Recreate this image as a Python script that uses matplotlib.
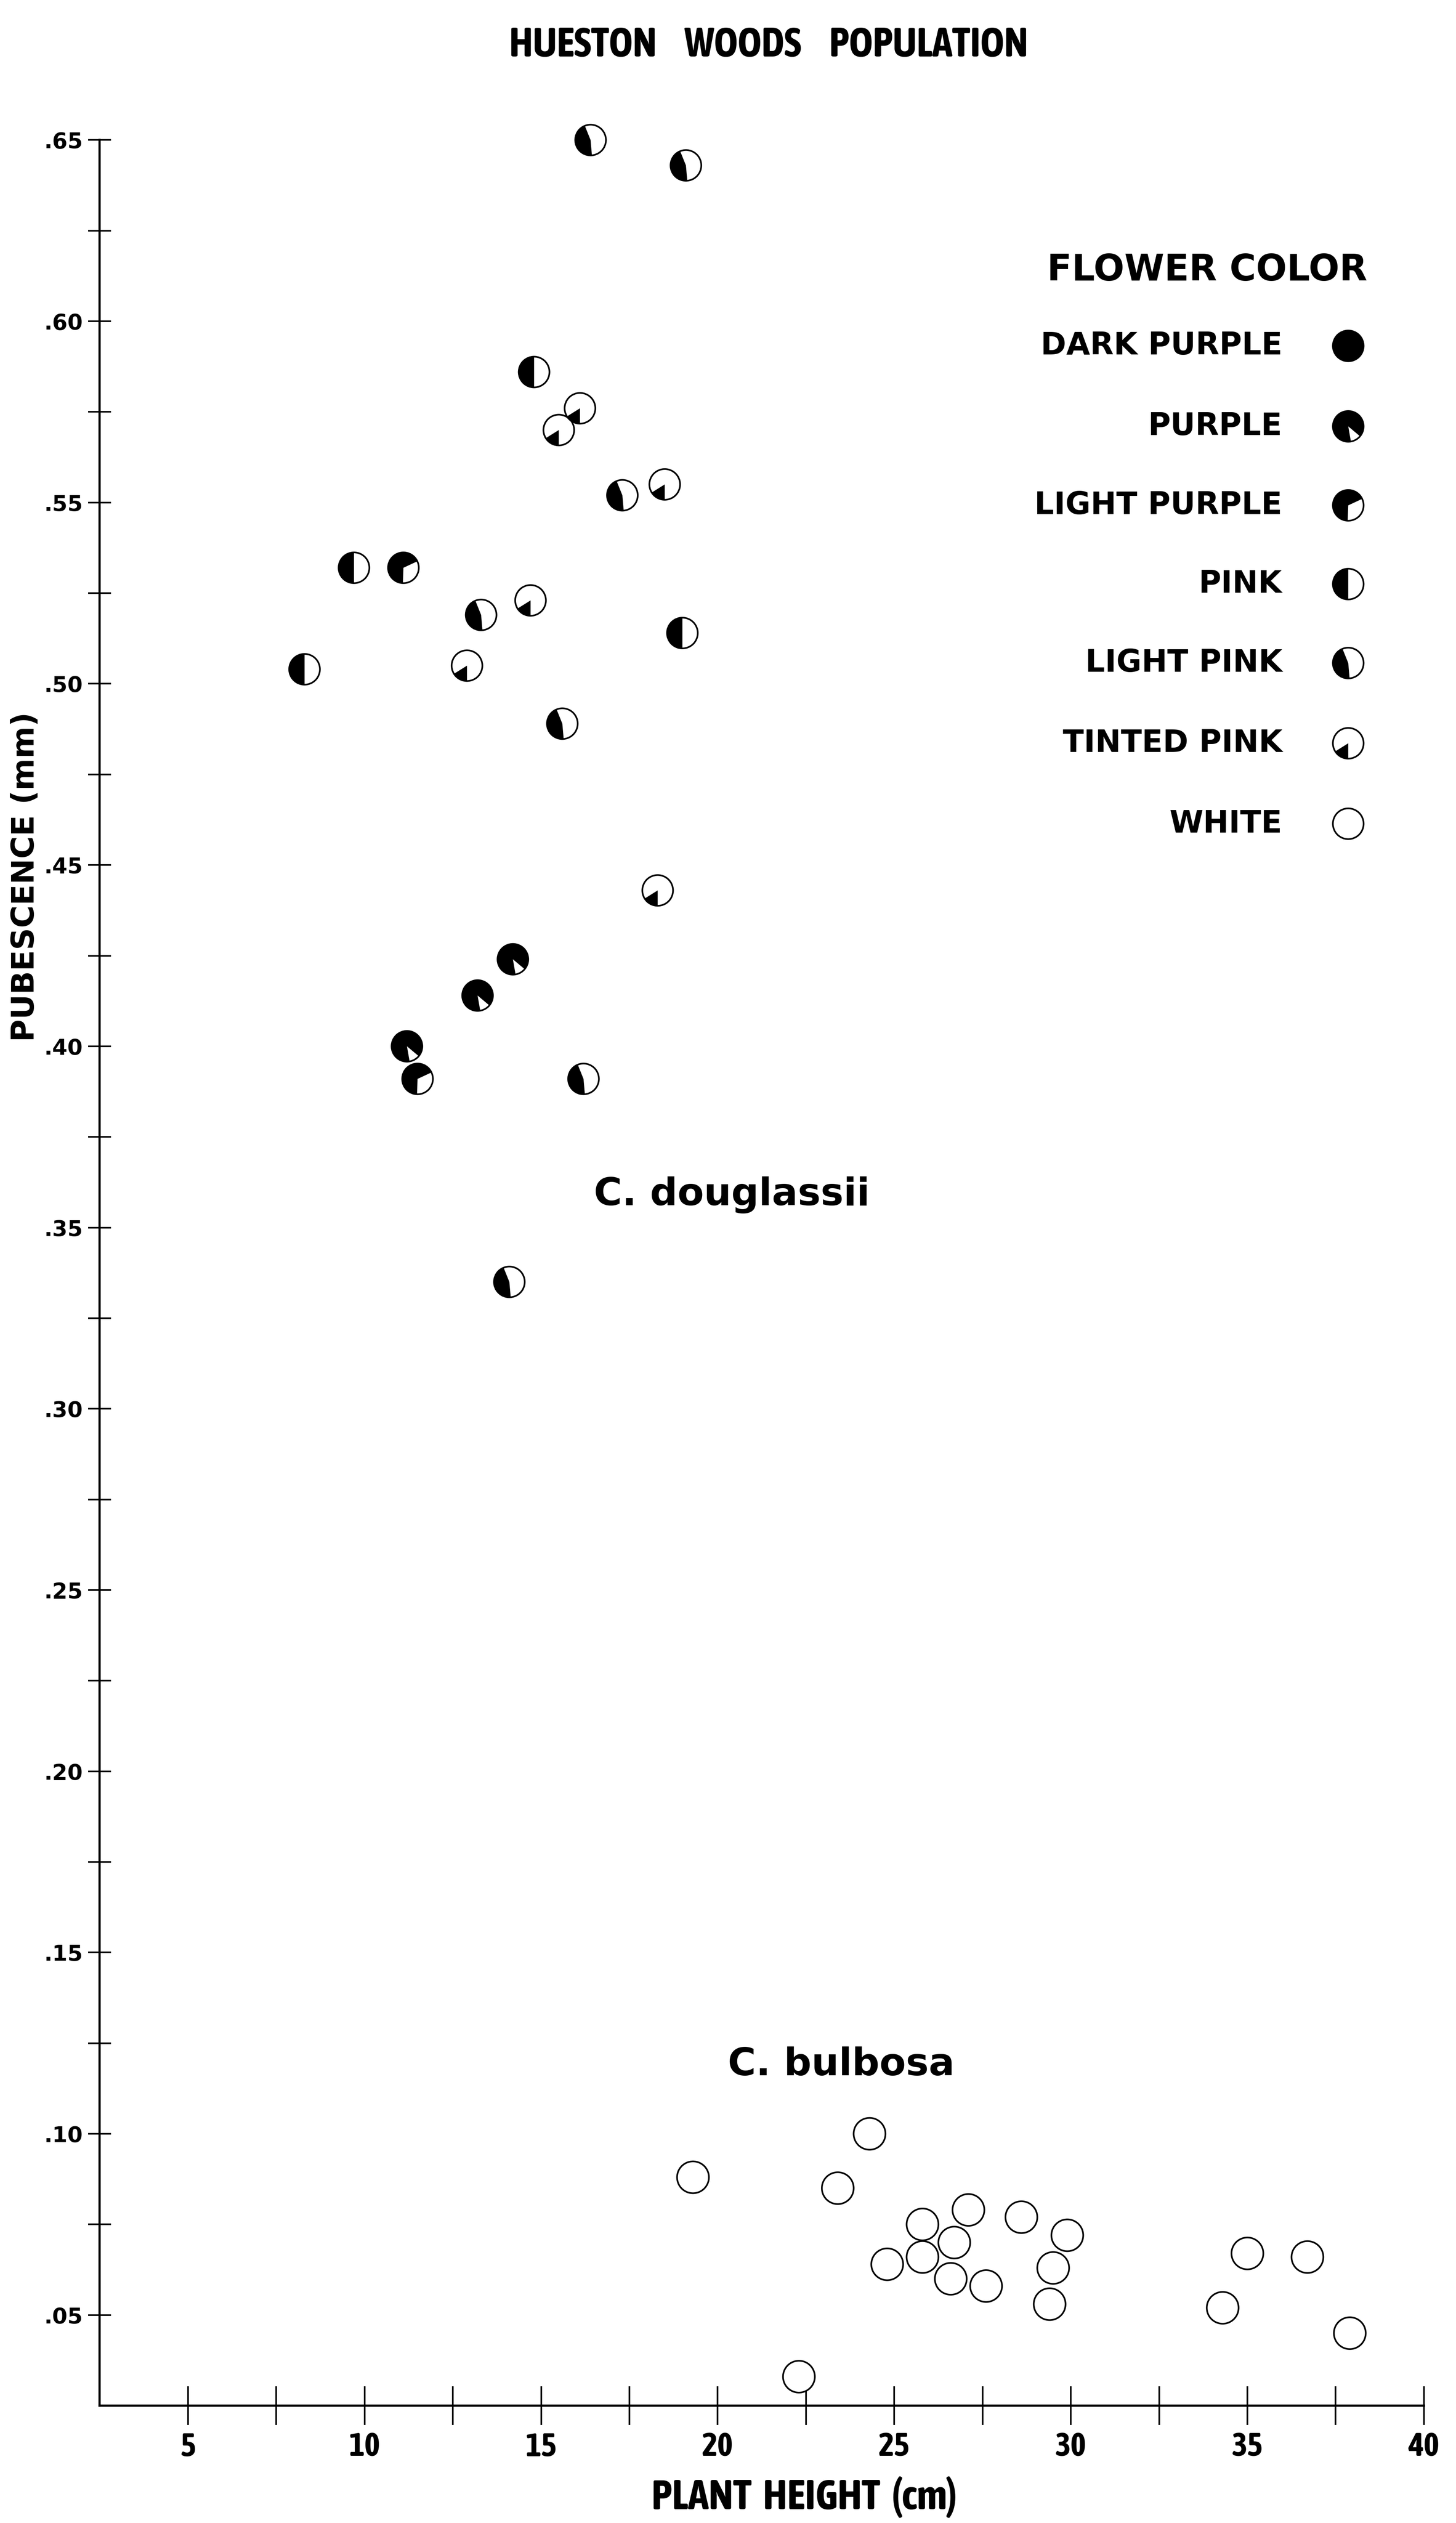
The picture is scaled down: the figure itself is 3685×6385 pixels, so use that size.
import numpy as np
import matplotlib
matplotlib.use("Agg")
import matplotlib.pyplot as plt
from matplotlib import font_manager

# flower color classes (legend order)
colorNames = ["DARK PURPLE", "PURPLE", "LIGHT PURPLE", "PINK",
              "LIGHT PINK", "TINTED PINK", "WHITE"]

# C. douglassii : plant height (cm), pubescence (mm), flower color
douglassiiHeight = [16.4, 19.1, 14.8, 16.1, 15.5, 17.3, 18.5, 9.7, 11.1, 13.3, 14.7,
                    19.0, 8.3, 12.9, 15.6, 18.3, 14.2, 13.2, 11.2, 11.5, 16.2, 14.1]
douglassiiPubescence = [.650, .643, .586, .576, .570, .552, .555, .532, .532, .519, .523,
                        .514, .504, .505, .489, .443, .424, .414, .400, .391, .391, .335]
douglassiiColor = ["LIGHT PINK", "LIGHT PINK", "PINK", "TINTED PINK", "TINTED PINK",
                   "LIGHT PINK", "TINTED PINK", "PINK", "LIGHT PURPLE", "LIGHT PINK",
                   "TINTED PINK", "PINK", "PINK", "TINTED PINK", "LIGHT PINK",
                   "TINTED PINK", "PURPLE", "PURPLE", "PURPLE", "LIGHT PURPLE",
                   "LIGHT PINK", "LIGHT PINK"]

# C. bulbosa : all white flowers
bulbosaHeight = [24.3, 19.3, 23.4, 27.1, 25.8, 28.6, 26.7, 29.9, 24.8, 25.8,
                 26.6, 27.6, 29.5, 29.4, 35.0, 36.7, 34.3, 37.9, 22.3]
bulbosaPubescence = [.100, .088, .085, .079, .075, .077, .070, .072, .064, .066,
                     .060, .058, .063, .053, .067, .066, .052, .045, .033]

xMajor = [5, 10, 15, 20, 25, 30, 35, 40]
xMinor = [7.5, 12.5, 17.5, 22.5, 27.5, 32.5, 37.5]
yMajor = [.05, .10, .15, .20, .25, .30, .35, .40, .45, .50, .55, .60, .65]
yMajorLabels = [".05", ".10", ".15", ".20", ".25", ".30", ".35", ".40",
                ".45", ".50", ".55", ".60", ".65"]
yMinor = [.075, .125, .175, .225, .275, .325, .375, .425, .475, .525, .575, .625]

# black sector of each symbol (degrees, counter-clockwise from 3 o'clock)
blackSector = {"DARK PURPLE": (0, 360), "PURPLE": (-40, 280),
               "LIGHT PURPLE": (25, 268), "PINK": (90, 270),
               "LIGHT PINK": (112, 275), "TINTED PINK": (212, 270),
               "WHITE": None}


def isBold(f):
    w = f.weight
    if isinstance(w, str):
        return w in ("bold", "heavy", "black", "demibold", "semibold", "extra bold")
    return w >= 600


# look for a bold condensed face for the title / x axis
narrowFamily = None
for f in font_manager.fontManager.ttflist:
    if ("Narrow" in f.name or "Condensed" in f.name) and isBold(f):
        narrowFamily = f.name
        break
if narrowFamily is None:
    for f in font_manager.fontManager.ttflist:
        if f.name == "DejaVu Sans" and f.stretch == "condensed" and isBold(f):
            narrowFamily = "DejaVu Sans"
            break
if narrowFamily is None:
    for f in font_manager.fontManager.ttflist:
        if "Narrow" in f.name or "Condensed" in f.name:
            narrowFamily = f.name
            break
if narrowFamily is None:
    narrowFamily = "DejaVu Sans"
narrowFont = dict(family=[narrowFamily, "DejaVu Sans"], fontstretch="condensed")


def wedgeVerts(a1, a2, n=90):
    th = np.radians(np.linspace(a1, a2, n))
    pts = [(0.0, 0.0)] + list(zip(np.cos(th), np.sin(th))) + [(0.0, 0.0)]
    return pts


def drawSymbols(ax, xs, ys, colorName, size, **kw):
    s = size ** 2
    ax.scatter(xs, ys, s=s, marker="o", facecolor="white", edgecolor="none",
               clip_on=False, zorder=3, **kw)
    sector = blackSector[colorName]
    if sector is not None:
        if sector[1] - sector[0] >= 360:
            ax.scatter(xs, ys, s=s, marker="o", facecolor="black", edgecolor="none",
                       clip_on=False, zorder=4, **kw)
        else:
            ax.scatter(xs, ys, s=s, marker=wedgeVerts(*sector), facecolor="black",
                       edgecolor="none", clip_on=False, zorder=4, **kw)
    ax.scatter(xs, ys, s=s, marker="o", facecolor="none", edgecolor="black",
               linewidths=3, clip_on=False, zorder=5, **kw)


fig = plt.figure(figsize=(36.85, 63.85), dpi=100)
ax = fig.add_axes([0.0685, 0.0465, 0.9095, 0.898])

ax.set_xlim(2.5, 40)
ax.set_ylim(0.025, 0.65)
for side in ["top", "right"]:
    ax.spines[side].set_visible(False)
for side in ["left", "bottom"]:
    ax.spines[side].set_linewidth(4)

ax.set_xticks(xMajor)
ax.set_xticks(xMinor, minor=True)
ax.set_xticklabels([str(v) for v in xMajor], fontweight="bold", fontsize=60, **narrowFont)
ax.set_yticks(yMajor)
ax.set_yticks(yMinor, minor=True)
ax.set_yticklabels(yMajorLabels, fontweight="bold", fontsize=40)
ax.tick_params(axis="x", which="both", direction="inout", length=70, width=3, pad=12)
ax.tick_params(axis="y", which="both", direction="inout", length=42, width=3, pad=10)

# data points
douglassiiHeight = np.array(douglassiiHeight)
douglassiiPubescence = np.array(douglassiiPubescence)
douglassiiColor = np.array(douglassiiColor)
for c in colorNames:
    sel = douglassiiColor == c
    if sel.any():
        drawSymbols(ax, douglassiiHeight[sel], douglassiiPubescence[sel], c, 56)
drawSymbols(ax, bulbosaHeight, bulbosaPubescence, "WHITE", 58)

ax.text(20.4, .359, "C. douglassii", ha="center", va="center",
        fontsize=70, fontweight="bold")
ax.text(23.5, .119, "C. bulbosa", ha="center", va="center",
        fontsize=70, fontweight="bold")

# legend
fig.text(0.939, 0.8929, "FLOWER COLOR", ha="right", va="center",
         fontsize=66, fontweight="heavy")
rowY = [0.8629, 0.8310, 0.7997, 0.7685, 0.7372, 0.7054, 0.6735]
for name, yy in zip(colorNames, rowY):
    fig.text(0.8807, yy, name, ha="right", va="center", fontsize=56, fontweight="bold")
    drawSymbols(ax, [0.926], [yy], name, 56, transform=fig.transFigure)

fig.text(0.528, 0.982, "HUESTON     WOODS     POPULATION", ha="center", va="center",
         fontsize=74, fontweight="bold", **narrowFont)
fig.text(0.5525, 0.0102, "PLANT  HEIGHT  (cm)", ha="center", va="center",
         fontsize=76, fontweight="bold", **narrowFont)
fig.text(0.0175, 0.6524, "PUBESCENCE (mm)", ha="center", va="center", rotation=90,
         fontsize=56, fontweight="bold")

fig.savefig("out.png", dpi=100, facecolor="white")
